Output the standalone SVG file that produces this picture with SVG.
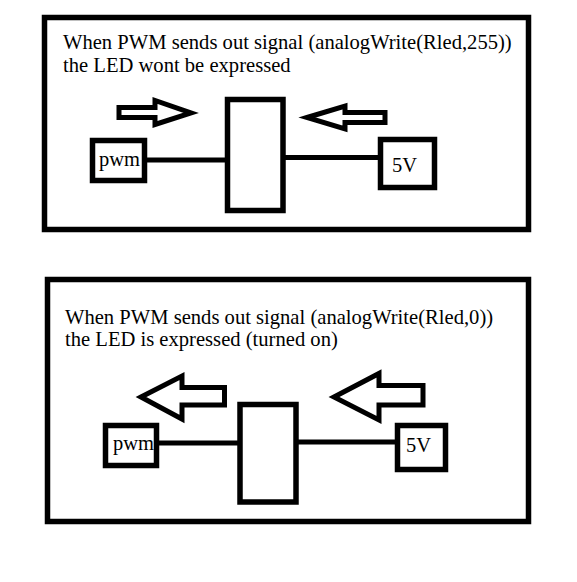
<svg xmlns="http://www.w3.org/2000/svg" width="577" height="582" viewBox="0 0 577 582">
<style>
.frame{fill:none;stroke:#000;stroke-width:5.5}
.box{fill:#fff;stroke:#000;stroke-width:5.5}
.wire{stroke:#000;stroke-width:5;fill:none}
.arrow{fill:#fff;stroke:#000;stroke-width:5;stroke-linejoin:miter}
text{font-family:"Liberation Serif","Times New Roman",serif;fill:#000}
.cap{font-size:20.6px}
.lbl{font-size:20.5px}
</style>
<rect width="577" height="582" fill="#fff"/>

<g id="panel1">
  <rect class="frame" x="44.5" y="17.5" width="484" height="212"/>
  <text class="cap" x="63" y="49">When PWM sends out signal (analogWrite(Rled,255))</text>
  <text class="cap" x="63" y="72">the LED wont be expressed</text>
</g>
<g id="connectors1">
  <line class="wire" x1="145" y1="160" x2="228" y2="160"/>
  <line class="wire" x1="283" y1="157.5" x2="381" y2="157.5"/>
</g>
<g id="pwm1">
  <rect class="box" x="92.5" y="140.5" width="52" height="40"/>
  <text class="lbl" x="99" y="166">pwm</text>
</g>
<g id="led1">
  <rect class="box" x="227.5" y="99.5" width="55.5" height="111"/>
</g>
<g id="v5_1">
  <rect class="box" x="380.5" y="139.5" width="54" height="48"/>
  <text class="lbl" x="392" y="172">5V</text>
</g>
<g id="arrowR1">
  <path class="arrow" d="M119,107.5 L155,107.5 L155,100.5 L191,113 L155,124.5 L155,117.5 L119,117.5 Z"/>
</g>
<g id="arrowL1">
  <path class="arrow" d="M307,117.5 L345,106 L345,112.5 L385,112.5 L385,122.5 L345,122.5 L345,129 Z"/>
</g>

<g id="panel2">
  <rect class="frame" x="47.5" y="279.5" width="481" height="242"/>
  <text class="cap" x="65" y="324">When PWM sends out signal (analogWrite(Rled,0))</text>
  <text class="cap" x="65" y="346">the LED is expressed (turned on)</text>
</g>
<g id="connectors2">
  <line class="wire" x1="157" y1="443" x2="241" y2="443"/>
  <line class="wire" x1="296" y1="442" x2="398" y2="442"/>
</g>
<g id="pwm2">
  <rect class="box" x="105.5" y="425.5" width="51" height="40"/>
  <text class="lbl" x="113" y="450">pwm</text>
</g>
<g id="led2">
  <rect class="box" x="240" y="404.5" width="56" height="97.5"/>
</g>
<g id="v5_2">
  <rect class="box" x="397.5" y="425.5" width="48" height="44"/>
  <text class="lbl" x="406" y="452">5V</text>
</g>
<g id="arrowL2a">
  <path class="arrow" d="M141,397 L182,376 L182,387.5 L224.5,387.5 L224.5,405 L182,405 L182,419 Z"/>
</g>
<g id="arrowL2b">
  <path class="arrow" d="M334,397 L379,373.5 L379,385.5 L423,385.5 L423,405 L379,405 L379,420 Z"/>
</g>
</svg>
